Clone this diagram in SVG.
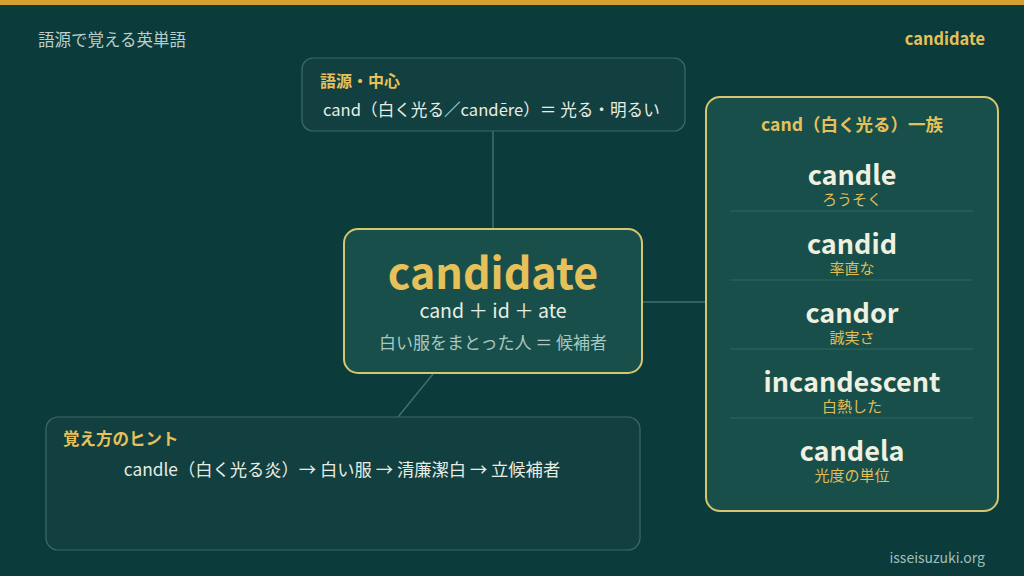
<svg xmlns="http://www.w3.org/2000/svg" width="1024" height="576" viewBox="0 0 1024 576">
<style>
text{font-family:"Noto Sans CJK JP","Noto Sans",sans-serif}
.panel{fill:#123f3f;stroke:#3d6b67;stroke-width:1.2}
.hl{fill:#184f4b;stroke:#d8c66e;stroke-width:2}
.gold{fill:#e6c15a;font-weight:700}
.wht{fill:#e8ede4}
.word{fill:#eef0e0;font-weight:700;font-size:27px;text-anchor:middle}
.mean{fill:#e0be58;font-size:15px;text-anchor:middle}
.sep{stroke:#2c6662;stroke-width:1}
.conn{stroke:#3f706b;stroke-width:1.5;fill:none}
</style>
<rect width="1024" height="576" fill="#0c3b3b"/>
<rect width="1024" height="5" fill="#d4a030"/>
<text x="38" y="46" font-size="16.5" fill="#b8cfcc">語源で覚える英単語</text>
<text x="985" y="45" font-size="16.4" class="gold" text-anchor="end">candidate</text>
<g id="connectors">
<line class="conn" x1="493" y1="131" x2="493" y2="229"/>
<line class="conn" x1="643" y1="302" x2="706" y2="302"/>
<line class="conn" x1="433" y1="374" x2="398" y2="417"/>
</g>
<g id="origin">
<rect class="panel" x="302" y="58" width="383" height="73" rx="11"/>
<text x="320" y="87" font-size="16" class="gold">語源・中心</text>
<text x="323" y="116" font-size="16.6" class="wht">cand（白く光る／candēre）＝ 光る・明るい</text>
</g>
<g id="center">
<rect class="hl" x="344" y="229" width="298" height="144" rx="14"/>
<text x="493" y="289" font-size="43" class="gold" text-anchor="middle">candidate</text>
<text x="493" y="318" font-size="19.5" class="wht" text-anchor="middle">cand ＋ id ＋ ate</text>
<text x="493" y="349" font-size="17" fill="#a8c8c0" text-anchor="middle">白い服をまとった人 ＝ 候補者</text>
</g>
<g id="family">
<rect class="hl" x="706" y="97" width="292" height="414" rx="14"/>
<text x="852" y="131" font-size="17.5" class="gold" text-anchor="middle">cand（白く光る）一族</text>
<text x="852" y="185" class="word">candle</text>
<text x="852" y="205" class="mean">ろうそく</text>
<line class="sep" x1="730" y1="211" x2="973" y2="211"/>
<text x="852" y="254" class="word">candid</text>
<text x="852" y="274" class="mean">率直な</text>
<line class="sep" x1="730" y1="280" x2="973" y2="280"/>
<text x="852" y="323" class="word">candor</text>
<text x="852" y="343" class="mean">誠実さ</text>
<line class="sep" x1="730" y1="349" x2="973" y2="349"/>
<text x="852" y="392" class="word">incandescent</text>
<text x="852" y="412" class="mean">白熱した</text>
<line class="sep" x1="730" y1="418" x2="973" y2="418"/>
<text x="852" y="461" class="word">candela</text>
<text x="852" y="481" class="mean">光度の単位</text>
</g>
<g id="hint">
<rect class="panel" x="46" y="417" width="594" height="133" rx="12"/>
<text x="63" y="445" font-size="16.5" class="gold">覚え方のヒント</text>
<text x="342" y="476" font-size="17.3" class="wht" text-anchor="middle">candle（白く光る炎）→ 白い服 → 清廉潔白 → 立候補者</text>
</g>
<text x="985" y="563" font-size="14" fill="#9fbfba" text-anchor="end">isseisuzuki.org</text>
</svg>
